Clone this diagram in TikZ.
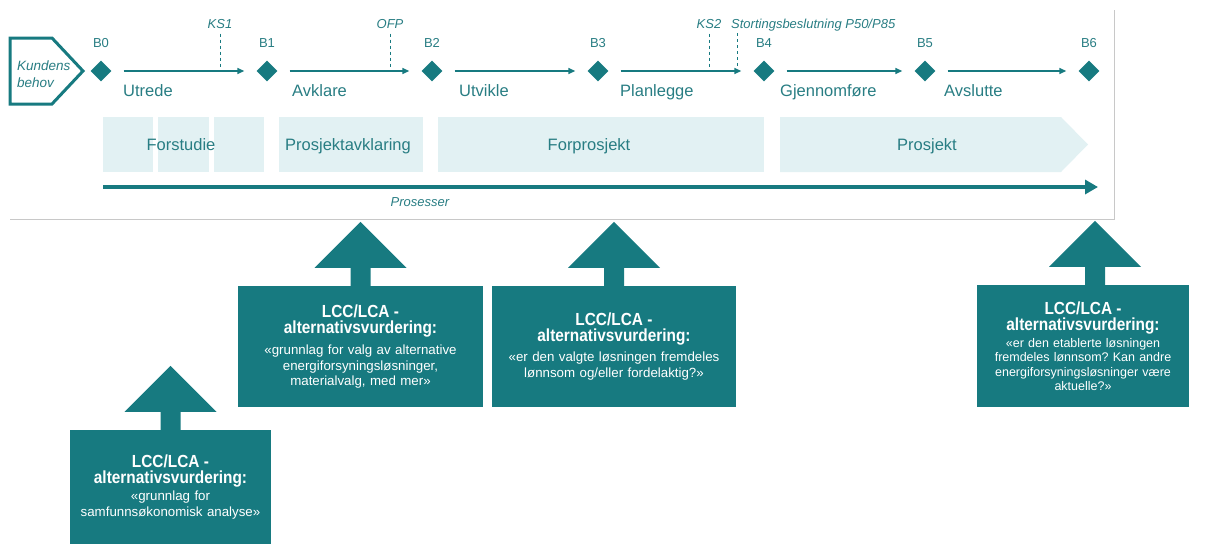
\documentclass[tikz,border=0pt]{standalone}
\usepackage{fontspec}
\setmainfont{Liberation Sans}
\newfontfamily\titlefont[FakeStretch=0.88]{Liberation Sans}
\usetikzlibrary{arrows.meta,shapes.geometric}
\definecolor{petrol}{RGB}{23,122,128}
\definecolor{petroltxt}{RGB}{40,125,131}
\definecolor{bandfill}{RGB}{226,241,243}
\definecolor{framegrey}{RGB}{200,200,200}
\newcommand{\lcchead}[1][5pt]{{\titlefont\bfseries\fontsize{17.5}{16}\selectfont LCC/LCA -\\alternativsvurdering:\par}\vspace{#1}}
\frenchspacing

\begin{document}
\begin{tikzpicture}[x=1pt,y=-1pt,
    milestone/.style={diamond, fill=petrol, inner sep=0pt, minimum size=21pt},
    mlabel/.style={anchor=base, inner sep=0pt, text=petroltxt, font=\fontsize{13}{15}\selectfont},
    gatelabel/.style={anchor=base, inner sep=0pt, text=petroltxt, font=\fontsize{13}{15}\selectfont\itshape},
    gate/.style={draw=petrol, line width=1pt, dash pattern=on 3pt off 3pt},
    flow/.style={draw=petrol, line width=1.5pt, -{Triangle[length=7pt,width=6pt]}, shorten <=12pt, shorten >=12pt},
    stage/.style={anchor=base west, inner sep=0pt, text=petroltxt, font=\fontsize{16.5}{18}\selectfont},
    phase/.style={anchor=base, inner sep=0pt, text=petroltxt, font=\fontsize{16.5}{18}\selectfont},
    band/.style={fill=bandfill},
    lcc/.style={fill=petrol, text=white, inner sep=0pt, align=center, font=\fontsize{13.3}{15.5}\selectfont}
]
\useasboundingbox (0,0) rectangle (1209,544);

%% frame round the process line
\draw[framegrey, line width=1pt] (10,219) -- (1114,219) -- (1114,10);

%% Kundens behov
\draw[petrol, line width=3pt, fill=white] (10,38) -- (52,38) -- (83,71) -- (52,104) -- (10,104) -- cycle;
\node[anchor=west, align=left, inner sep=0pt, text=petroltxt, font=\fontsize{13.5}{16.5}\selectfont\itshape] (kunde) at (17,74) {Kundens\\behov};

%% milestones
\node[milestone] (d0) at (101,71) {};
\node[milestone] (d1) at (267,71) {};
\node[milestone] (d2) at (432,71) {};
\node[milestone] (d3) at (598,71) {};
\node[milestone] (d4) at (764,71) {};
\node[milestone] (d5) at (925,71) {};
\node[milestone] (d6) at (1089,71) {};
\node[mlabel] (b0) at (101,47.7) {B0};
\node[mlabel] (b1) at (267,47.7) {B1};
\node[mlabel] (b2) at (432,47.7) {B2};
\node[mlabel] (b3) at (598,47.7) {B3};
\node[mlabel] (b4) at (764,47.7) {B4};
\node[mlabel] (b5) at (925,47.7) {B5};
\node[mlabel] (b6) at (1089,47.7) {B6};

\draw[flow] (d0.east) -- (d1.west);
\draw[flow] (d1.east) -- (d2.west);
\draw[flow] (d2.east) -- (d3.west);
\draw[flow] (d3.east) -- (d4.west);
\draw[flow] (d4.east) -- (d5.west);
\draw[flow] (d5.east) -- (d6.west);

\node[stage] (utrede) at (123,96.7) {Utrede};
\node[stage] (avklare) at (292,96.7) {Avklare};
\node[stage] (utvikle) at (459,96.7) {Utvikle};
\node[stage] (planlegge) at (620,96.7) {Planlegge};
\node[stage] (gjennomfore) at (780,96.7) {Gjennomføre};
\node[stage] (avslutte) at (944,96.7) {Avslutte};

%% decision gates
\node[gatelabel] (ks1) at (220,28.3) {KS1};
\node[gatelabel] (ofp) at (390,28.3) {OFP};
\node[gatelabel] (ks2) at (709,28.3) {KS2};
\node[gatelabel, anchor=base west] (stort) at (731,28.3) {Stortingsbeslutning P50/P85};
\draw[gate] ([yshift=-5pt]ks1.south) -- ++(0,35);
\draw[gate] ([yshift=-5pt]ofp.south) -- ++(0,35);
\draw[gate] ([yshift=-5pt]ks2.south) -- ++(0,35);
\draw[gate] ([xshift=6pt,yshift=-5pt]stort.base west) -- ++(0,35);

%% phases
\fill[band] (103,117) rectangle (153,172);
\fill[band] (158,117) rectangle (209,172);
\fill[band] (214,117) rectangle (264,172);
\fill[band] (279,117) rectangle (423,172);
\fill[band] (438,117) rectangle (764,172);
\fill[band] (780,117) -- (1061,117) -- (1088,144.5) -- (1061,172) -- (780,172) -- cycle;
\node[phase] (forstudie) at (181,150) {Forstudie};
\node[phase] (pavklaring) at (348,150) {Prosjektavklaring};
\node[phase] (forprosjekt) at (589,150) {Forprosjekt};
\node[phase] (prosjekt) at (927,150) {Prosjekt};

%% processes
\coordinate (p0) at (103,187);
\coordinate (p1) at (1098,187);
\draw[petrol, line width=4pt, -{Triangle[length=13pt,width=14pt]}] (p0) -- (p1);
\node[gatelabel] (prosesser) at (420,206.7) {Prosesser};

%% LCC/LCA boxes
\node[lcc, minimum width=201pt, minimum height=114pt, text width=199pt] (lcca) at (170.5,487)
  {\lcchead[2pt] «grunnlag for\\samfunnsøkonomisk analyse»};
\node[lcc, minimum width=245pt, minimum height=121pt, text width=243pt] (lccb) at (360.5,346.5)
  {\lcchead[6pt] «grunnlag for valg av alternative\\energiforsyningsløsninger,\\materialvalg, med mer»};
\node[lcc, minimum width=244pt, minimum height=121pt, text width=242pt] (lccc) at (614,346.5)
  {\lcchead[5pt] «er den valgte løsningen fremdeles\\lønnsom og/eller fordelaktig?»};
\node[lcc, minimum width=212pt, minimum height=122pt, text width=210pt, font=\fontsize{12.5}{14.3}\selectfont] (lccd) at (1083,346)
  {\lcchead[3pt] «er den etablerte løsningen\\fremdeles lønnsom? Kan andre\\energiforsyningsløsninger være\\aktuelle?»};

%% up arrows on the boxes
\fill[petrol] (lcca.north) ++(-10,0) -- ++(0,-18) -- ++(-36,0) -- ++(46,-46) -- ++(46,46) -- ++(-36,0) -- ++(0,18) -- cycle;
\fill[petrol] (lccb.north) ++(-10,0) -- ++(0,-18) -- ++(-36,0) -- ++(46,-46) -- ++(46,46) -- ++(-36,0) -- ++(0,18) -- cycle;
\fill[petrol] (lccc.north) ++(-10,0) -- ++(0,-18) -- ++(-36,0) -- ++(46,-46) -- ++(46,46) -- ++(-36,0) -- ++(0,18) -- cycle;
\fill[petrol] ([xshift=12pt]lccd.north) ++(-10,0) -- ++(0,-18) -- ++(-36,0) -- ++(46,-46) -- ++(46,46) -- ++(-36,0) -- ++(0,18) -- cycle;
\end{tikzpicture}
\end{document}
